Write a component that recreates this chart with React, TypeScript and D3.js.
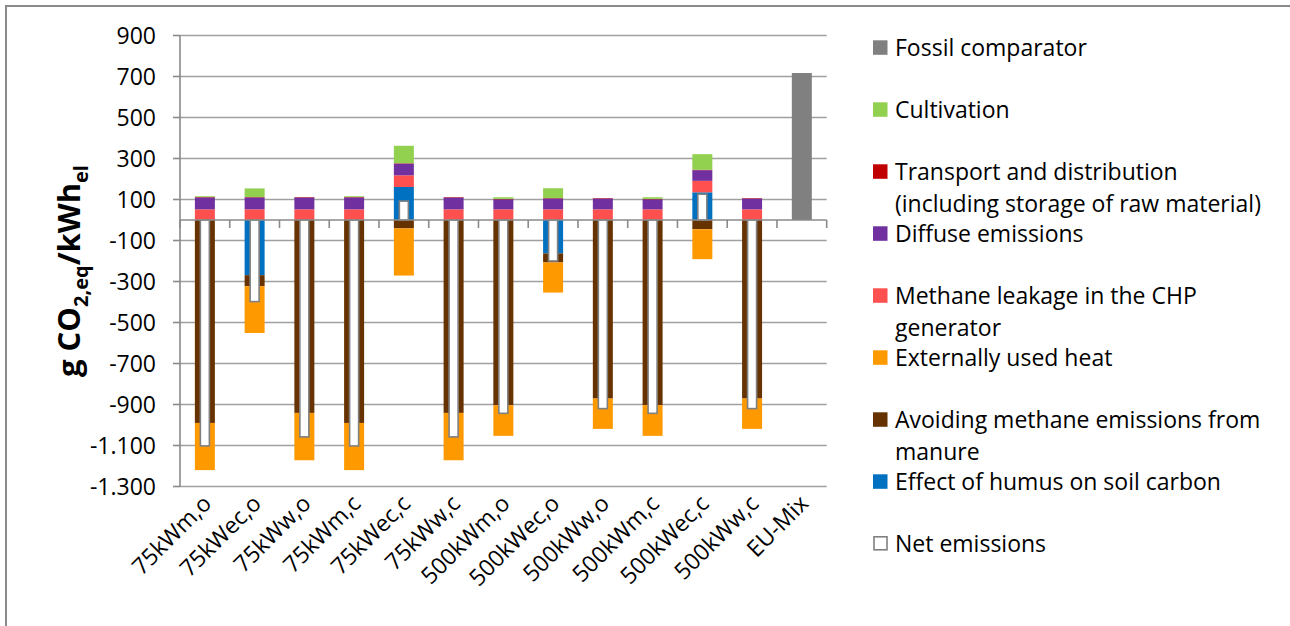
import React from "react";
import * as d3 from "d3";

const categories = ["75kWm,o", "75kWec,o", "75kWw,o", "75kWm,c", "75kWec,c", "75kWw,c", "500kWm,o", "500kWec,o", "500kWw,o", "500kWm,c", "500kWec,c", "500kWw,c", "EU-Mix"];

const humus = [0, -269, 0, 0, 161, 0, 0, -163, 0, 0, 135, 0, 0];
const avoiding = [-990, -54, -941, -990, -41, -941, -903, -44, -871, -903, -45, -871, 0];
const heat = [-230, -228, -231, -230, -230, -231, -150, -147, -148, -150, -146, -148, 0];
const methaneLeak = [52, 52, 52, 52, 57, 52, 52, 52, 52, 52, 56, 52, 0];
const diffuse = [58, 58, 58, 58, 57, 58, 49, 53, 53, 49, 52, 53, 0];
const transport = [2, 2, 2, 2, 2, 2, 2, 2, 2, 2, 2, 2, 0];
const cultivation = [4, 42, 0, 4, 85, 0, 8, 48, 0, 8, 76, 0, 0];
const fossil = [0, 0, 0, 0, 0, 0, 0, 0, 0, 0, 0, 0, 717];
const netEmissions = [-1102, -398, -1058, -1102, 92, -1058, -943, -200, -920, -943, 126, -920, null];

const yTicks = [900, 700, 500, 300, 100, -100, -300, -500, -700, -900, -1100, -1300];
const yTickLabels = ["900", "700", "500", "300", "100", "-100", "-300", "-500", "-700", "-900", "-1.100", "-1.300"];

const seriesKeys = ["humus", "avoiding", "heat", "methaneLeak", "diffuse", "transport", "cultivation", "fossil"];
const seriesValues: Record<string, number[]> = { humus, avoiding, heat, methaneLeak, diffuse, transport, cultivation, fossil };
const seriesColors: Record<string, string> = {
  fossil: "#808080",
  cultivation: "#92D050",
  transport: "#C00000",
  diffuse: "#7030A0",
  methaneLeak: "#FF5050",
  heat: "#FF9900",
  avoiding: "#663300",
  humus: "#0070C0",
};

const legendItems = [
  { key: "fossil", lines: ["Fossil comparator"] },
  { key: "cultivation", lines: ["Cultivation"] },
  { key: "transport", lines: ["Transport and distribution", "(including storage of raw material)"] },
  { key: "diffuse", lines: ["Diffuse emissions"] },
  { key: "methaneLeak", lines: ["Methane leakage in the CHP", "generator"] },
  { key: "heat", lines: ["Externally used heat"] },
  { key: "avoiding", lines: ["Avoiding methane emissions from", "manure"] },
  { key: "humus", lines: ["Effect of humus on soil carbon"] },
  { key: "net", lines: ["Net emissions"] },
];

const FONT = "'Open Sans', sans-serif";

export default function App() {
  const W = 1290, H = 626;
  const x0 = 180, x1 = 826.7;
  const x = d3.scaleBand<string>().domain(categories).range([x0, x1]).paddingInner(0.598).paddingOuter(0.299);
  const y = d3.scaleLinear().domain([-1300, 900]).range([486.5, 35.5]);
  const step = x.step();
  const bw = x.bandwidth();

  const table = categories.map((c, i) => {
    const row: any = { cat: c };
    seriesKeys.forEach((k) => (row[k] = seriesValues[k][i]));
    return row;
  });
  const stacked = d3.stack<any>().keys(seriesKeys).offset(d3.stackOffsetDiverging)(table);

  const gridColor = "#a0a0a0";
  const boundaries = categories.map((c) => (x(c) as number) + bw / 2 - step / 2).concat([x1]);

  return (
    <svg width={W} height={H} style={{ position: "absolute", left: 0, top: 0, display: "block", background: "#fff" }}>
      <path d={`M6,${H} V6 H${W}`} fill="none" stroke="#8a8a8a" strokeWidth={2} />
      {/* gridlines */}
      {yTicks.map((t) => (
        <line key={"g" + t} x1={x0} x2={x1} y1={y(t)} y2={y(t)} stroke={gridColor} strokeWidth={1.6} />
      ))}
      {/* y axis */}
      <line x1={x0} x2={x0} y1={y(900)} y2={y(-1300)} stroke="#8a8a8a" strokeWidth={1.6} />
      {yTicks.map((t, i) => (
        <g key={"yt" + t}>
          <line x1={x0 - 7} x2={x0} y1={y(t)} y2={y(t)} stroke="#8a8a8a" strokeWidth={1.6} />
          <text x={156} y={y(t)} dy="0.36em" textAnchor="end" fontFamily={FONT} fontSize={23} fill="#000">
            {yTickLabels[i]}
          </text>
        </g>
      ))}
      {/* bars */}
      {stacked.map((s) => (
        <g key={s.key} fill={seriesColors[s.key]}>
          {s.map((d, i) =>
            d[1] - d[0] !== 0 ? (
              <rect key={i} x={x(categories[i])} width={bw} y={y(Math.max(d[0], d[1]))} height={Math.abs(y(d[0]) - y(d[1]))} />
            ) : null
          )}
        </g>
      ))}
      {/* net emissions */}
      {netEmissions.map((v, i) =>
        v === null ? null : (
          <rect
            key={"n" + i}
            x={(x(categories[i]) as number) + bw / 2 - 4.5}
            width={9}
            y={y(Math.max(0, v))}
            height={Math.abs(y(v) - y(0))}
            fill="#fff"
            stroke="#808080"
            strokeWidth={1.6}
          />
        )
      )}
      {/* x axis */}
      <line x1={x0} x2={x1} y1={y(0)} y2={y(0)} stroke="#8a8a8a" strokeWidth={1.6} />
      {boundaries.map((b, i) => (
        <line key={"xt" + i} x1={b} x2={b} y1={y(0)} y2={y(0) + 8} stroke="#8a8a8a" strokeWidth={1.6} />
      ))}
      {/* x labels */}
      {categories.map((c) => {
        const cx = (x(c) as number) + bw / 2;
        return (
          <text key={"xl" + c} transform={`translate(${cx + 8},${505}) rotate(-45)`} textAnchor="end" fontFamily={FONT} fontSize={23} fill="#000">
            {c}
          </text>
        );
      })}
      {/* y title */}
      <text transform="translate(80,271) rotate(-90)" textAnchor="middle" fontFamily={FONT} fontSize={31} fontWeight="bold" fill="#000">
        g CO<tspan fontSize={20} dy="8">2,eq</tspan><tspan dy="-8">/kWh</tspan><tspan fontSize={20} dy="8">el</tspan>
      </text>
      {/* legend */}
      {legendItems.map((it, i) => {
        const cy = 47.3 + i * 62;
        return (
          <g key={"lg" + it.key}>
            {it.key === "net" ? (
              <rect x={874} y={cy - 6.5} width={13} height={13} fill="#fff" stroke="#808080" strokeWidth={1.6} />
            ) : (
              <rect x={873} y={cy - 7} width={14.5} height={14.5} fill={seriesColors[it.key]} />
            )}
            {it.lines.map((ln, j) => (
              <text key={j} x={895} y={cy + j * 32} dy="0.36em" fontFamily={FONT} fontSize={23} fill="#000">
                {ln}
              </text>
            ))}
          </g>
        );
      })}
    </svg>
  );
}
